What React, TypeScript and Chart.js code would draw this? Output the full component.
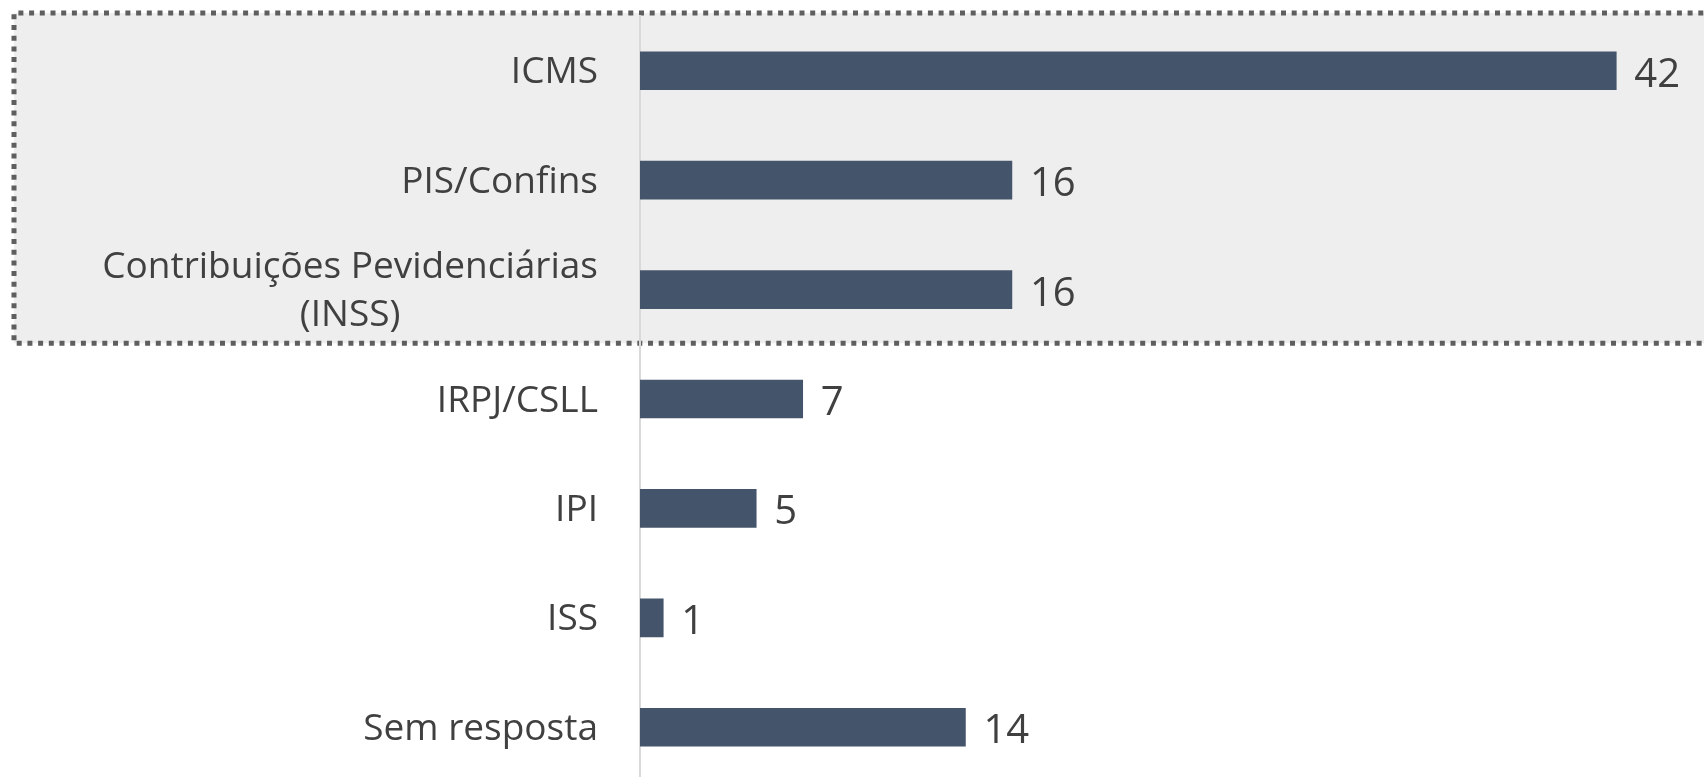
import { useEffect, useRef } from "react";
import { Chart, registerables } from "chart.js";

Chart.register(...registerables);

const categories: (string | string[])[] = [
  "ICMS",
  "PIS/Confins",
  ["Contribuições Pevidenciárias", "(INSS)"],
  "IRPJ/CSLL",
  "IPI",
  "ISS",
  "Sem resposta",
];
const values: number[] = [42, 16, 16, 7, 5, 1, 14];
const highlightedCount = 3;
const axisMin = 0;
const axisMax = 45;

const FONT = "'Open Sans', 'Noto Sans', sans-serif";
const TEXT = "#404040";
const BAR = "#44546a";
const LABEL_SIZE = 37;
const VALUE_SIZE = 40;

const highlightBox = {
  id: "highlightBox",
  beforeDraw(chart: any) {
    const { ctx, chartArea, scales } = chart;
    const y = scales.y;
    const top = chartArea.top - 3;
    const bottom =
      (y.getPixelForValue(highlightedCount - 1) + y.getPixelForValue(highlightedCount)) / 2 - 1;
    const left = 14;
    const right = chart.width + 10;
    ctx.save();
    ctx.fillStyle = "#eeeeee";
    ctx.fillRect(left, top, right - left, bottom - top);
    ctx.strokeStyle = "#5f5f5f";
    ctx.lineWidth = 5;
    ctx.setLineDash([5, 5.7]);
    ctx.beginPath();
    ctx.moveTo(right, top);
    ctx.lineTo(left, top);
    ctx.lineTo(left, bottom);
    ctx.lineTo(right, bottom);
    ctx.stroke();
    ctx.restore();
  },
};

const categoryLabels = {
  id: "categoryLabels",
  afterDraw(chart: any) {
    const { ctx, chartArea, scales } = chart;
    const y = scales.y;
    const right = chartArea.left - 42;
    ctx.save();
    ctx.font = `${LABEL_SIZE}px ${FONT}`;
    ctx.fillStyle = TEXT;
    ctx.textBaseline = "alphabetic";
    categories.forEach((label, i) => {
      const cy = y.getPixelForValue(i);
      if (Array.isArray(label)) {
        const widest = Math.max(...label.map((l) => ctx.measureText(l).width));
        const cx = right - widest / 2;
        const spacing = 48;
        const startY = cy - ((label.length - 1) * spacing) / 2;
        ctx.textAlign = "center";
        label.forEach((line, j) => {
          ctx.fillText(line, cx, startY + j * spacing + 12.5);
        });
      } else {
        ctx.textAlign = "right";
        ctx.fillText(label, right, cy + 12.5);
      }
    });
    ctx.restore();
  },
};

const valueLabels = {
  id: "valueLabels",
  afterDatasetsDraw(chart: any) {
    const { ctx } = chart;
    const meta = chart.getDatasetMeta(0);
    ctx.save();
    ctx.font = `${VALUE_SIZE}px ${FONT}`;
    ctx.fillStyle = TEXT;
    ctx.textAlign = "left";
    ctx.textBaseline = "alphabetic";
    meta.data.forEach((bar: any, i: number) => {
      ctx.fillText(String(values[i]), bar.x + 18, bar.y + 16);
    });
    ctx.restore();
  },
};

export default function App() {
  const ref = useRef<HTMLCanvasElement | null>(null);

  useEffect(() => {
    document.body.style.margin = "0";
    document.body.style.overflow = "hidden";
    if (!ref.current) return;
    const chart = new Chart(ref.current, {
      type: "bar",
      data: {
        labels: categories,
        datasets: [
          {
            data: values,
            backgroundColor: BAR,
            borderWidth: 0,
            barThickness: 38,
          },
        ],
      },
      options: {
        indexAxis: "y",
        animation: false,
        responsive: false,
        devicePixelRatio: 1,
        layout: { padding: { top: 16, bottom: 8, right: 18, left: 0 } },
        plugins: {
          legend: { display: false },
          tooltip: { enabled: false },
        },
        scales: {
          x: {
            display: false,
            min: axisMin,
            max: axisMax,
          },
          y: {
            grid: { display: false, drawTicks: false },
            border: { display: true, color: "#d9d9d9", width: 2 },
            ticks: { display: false, padding: 0 },
            afterFit(scale: any) {
              scale.width = 640;
              scale.paddingTop = 0;
              scale.paddingBottom = 0;
            },
          },
        },
      },
      plugins: [highlightBox, valueLabels, categoryLabels],
    });
    return () => chart.destroy();
  }, []);

  return (
    <div style={{ width: 1704, height: 777, overflow: "hidden", background: "#ffffff" }}>
      <canvas ref={ref} width={1704} height={790} style={{ display: "block" }} />
    </div>
  );
}
